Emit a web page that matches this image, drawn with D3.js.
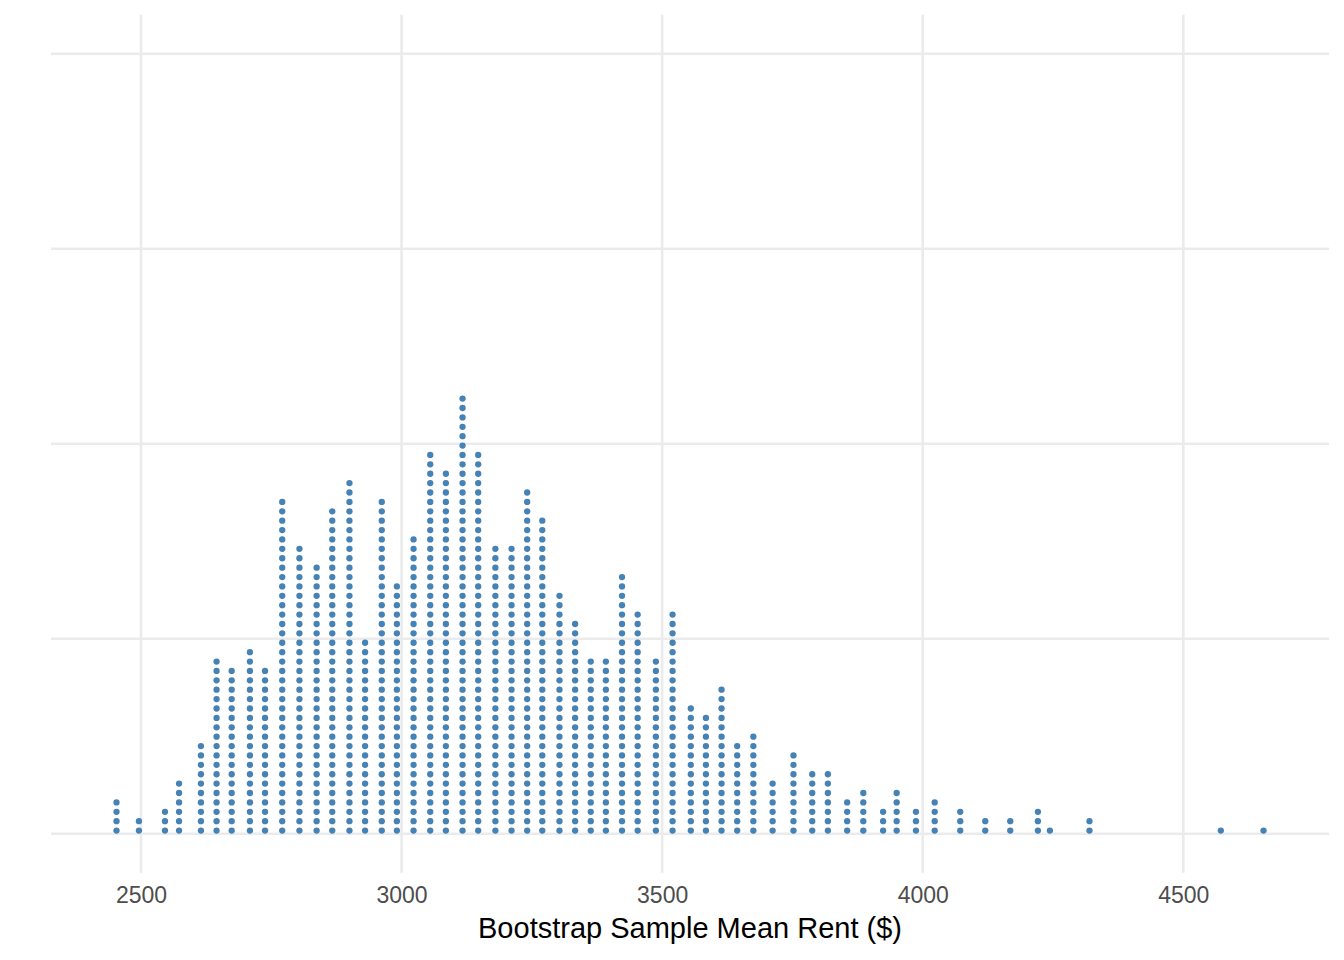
<!DOCTYPE html>
<html>
<head>
<meta charset="utf-8">
<script src="https://cdn.jsdelivr.net/npm/d3@7/dist/d3.min.js"></script>
<style>
  body { margin: 0; background: #ffffff; }
  svg { display: block; }
</style>
</head>
<body>
<svg id="chart" width="1344" height="960"></svg>
<script>
// ---- Data ----
const binCenters = [
  2453, 2496, 2546, 2573, 2615, 2645, 2674, 2709, 2738, 2771,
  2804, 2837, 2867, 2900, 2930, 2962, 2991, 3023, 3055, 3085,
  3117, 3147, 3180, 3211, 3241, 3270, 3303, 3333, 3363, 3392,
  3423, 3453, 3488, 3520, 3555, 3584, 3614, 3644, 3675, 3712,
  3752, 3788, 3818, 3855, 3886, 3924, 3950, 3987, 4023, 4072,
  4120, 4168, 4221, 4244, 4320, 4572, 4654
];
const binCounts = [
  4, 2, 3, 6, 10, 19, 18, 20, 18, 36,
  31, 29, 35, 38, 21, 36, 27, 32, 41, 39,
  47, 41, 31, 31, 37, 34, 26, 23, 19, 19,
  28, 24, 19, 24, 14, 13, 16, 10, 11, 6,
  9, 7, 7, 4, 5, 3, 5, 3, 4, 3,
  2, 2, 3, 1, 2, 1, 1
];
const xTicks = [2500, 3000, 3500, 4000, 4500];
const yTicks = [0, 0.25, 0.5, 0.75, 1];
const xLabel = "Bootstrap Sample Mean Rent ($)";
const xLimits = [2327.3, 4779.6];
const yLimits = [-0.05, 1.05];

// ---- Styling / layout ----
const panel = { left: 51, right: 1329, top: 14.7, bottom: 872.7 };
const dotUnit = 0.008026;   // dot diameter in y-axis units
const stackRatio = 1.5;
const dotRadius = 3.15;
const dotColor = "steelblue";
const gridColor = "#EBEBEB";
const font = "'Liberation Sans', Arial, Helvetica, sans-serif";

const svg = d3.select("#chart");
svg.append("rect").attr("width", 1344).attr("height", 960).attr("fill", "#ffffff");

const x = d3.scaleLinear().domain(xLimits).range([panel.left, panel.right]);
const y = d3.scaleLinear().domain(yLimits).range([panel.bottom, panel.top]);

// grid
const grid = svg.append("g");
grid.selectAll("line.h").data(yTicks).join("line")
  .attr("class", "h")
  .attr("x1", panel.left).attr("x2", panel.right)
  .attr("y1", d => y(d)).attr("y2", d => y(d))
  .attr("stroke", gridColor).attr("stroke-width", 2.6);
grid.selectAll("line.v").data(xTicks).join("line")
  .attr("class", "v")
  .attr("y1", panel.top).attr("y2", panel.bottom)
  .attr("x1", d => x(d)).attr("x2", d => x(d))
  .attr("stroke", gridColor).attr("stroke-width", 2.6);

// x axis (labels only, no line/ticks)
const xAxis = d3.axisBottom(x).tickValues(xTicks).tickSize(0).tickPadding(0).tickFormat(d3.format("d"));
const gx = svg.append("g").attr("transform", `translate(0,${panel.bottom})`).call(xAxis);
gx.select(".domain").remove();
gx.selectAll("text")
  .attr("y", 30.6).attr("dy", 0)
  .attr("fill", "#4D4D4D")
  .style("font-family", font)
  .style("font-size", "23px");

// axis title
svg.append("text")
  .attr("x", (panel.left + panel.right) / 2)
  .attr("y", 938)
  .attr("text-anchor", "middle")
  .attr("fill", "#000000")
  .style("font-family", font)
  .style("font-size", "29px")
  .text(xLabel);

// dots
const dots = [];
binCenters.forEach((c, i) => {
  for (let k = 0; k < binCounts[i]; k++) dots.push({ x: c, k: k });
});
svg.append("g").selectAll("circle").data(dots).join("circle")
  .attr("cx", d => x(d.x))
  .attr("cy", d => y(dotUnit * (0.5 + d.k * stackRatio)))
  .attr("r", dotRadius)
  .attr("fill", dotColor);
</script>
</body>
</html>
